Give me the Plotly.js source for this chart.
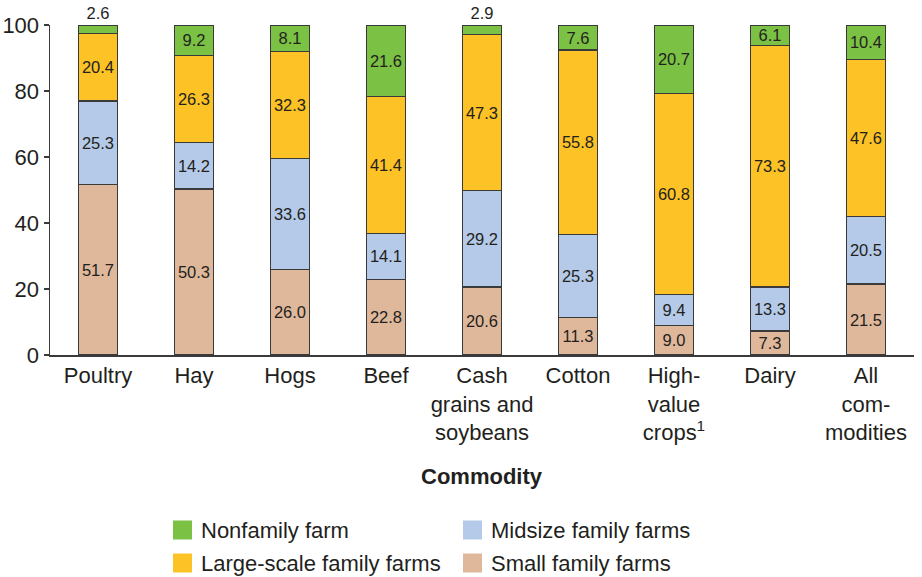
<!DOCTYPE html>
<html>
<head>
<meta charset="utf-8">
<script src="https://cdn.plot.ly/plotly-3.0.1.min.js"></script>
<style>html,body{margin:0;padding:0;background:#fff;}#chart{width:922px;height:577px;}</style>
</head>
<body>
<div id="chart"></div>
<script>
const categories = ["Poultry", "Hay", "Hogs", "Beef", "Cash<br>grains and<br>soybeans", "Cotton", "High-<br>value<br>crops<sup>1</sup>", "Dairy", "All<br>com-<br>modities"];
const smallFamily = [51.7, 50.3, 26.0, 22.8, 20.6, 11.3, 9.0, 7.3, 21.5];
const midsizeFamily = [25.3, 14.2, 33.6, 14.1, 29.2, 25.3, 9.4, 13.3, 20.5];
const largeScaleFamily = [20.4, 26.3, 32.3, 41.4, 47.3, 55.8, 60.8, 73.3, 47.6];
const nonfamily = [2.6, 9.2, 8.1, 21.6, 2.9, 7.6, 20.7, 6.1, 10.4];
const yTicks = [0, 20, 40, 60, 80, 100];

const seriesNames = ["Small family farms", "Midsize family farms", "Large-scale family farms", "Nonfamily farm"];
const seriesColors = ["#dfb89b", "#b4cae8", "#fdc225", "#7bc144"];
const seriesValues = [smallFamily, midsizeFamily, largeScaleFamily, nonfamily];

const textColor = "#231f20";
const FONT = "Liberation Sans, Arial, Helvetica, sans-serif";

const traces = seriesValues.map((vals, i) => ({
  type: "bar",
  name: seriesNames[i],
  x: categories,
  y: vals,
  marker: {color: seriesColors[i], line: {color: "#3a3a3a", width: 1.2}},
  texttemplate: "%{y:.1f}",
  textposition: i === 3 ? vals.map(v => v < 5 ? "outside" : "inside") : "inside",
  insidetextanchor: "middle",
  constraintext: "none",
  textfont: {family: FONT, size: 16.5, color: textColor},
  outsidetextfont: {family: FONT, size: 16.5, color: textColor},
  insidetextfont: {family: FONT, size: 16.5, color: textColor},
  cliponaxis: false,
  hoverinfo: "skip",
  showlegend: false
}));

// plot area in pixels: left 50, right 914, top 25, bottom 355
const PL = 50, PR = 914, PT = 25, PB = 355;
const px = x => (x - PL) / (PR - PL);
const py = y => (PB - y) / (PB - PT);

const legendItems = [
  {name: "Nonfamily farm", color: seriesColors[3], x: 173, y: 530},
  {name: "Midsize family farms", color: seriesColors[1], x: 463, y: 530},
  {name: "Large-scale family farms", color: seriesColors[2], x: 173, y: 563},
  {name: "Small family farms", color: seriesColors[0], x: 463, y: 563}
];

const shapes = legendItems.map(it => ({
  type: "rect", xref: "paper", yref: "paper",
  x0: px(it.x), x1: px(it.x + 19), y0: py(it.y + 9.5), y1: py(it.y - 9.5),
  fillcolor: it.color, line: {width: 0}
}));
const annotations = legendItems.map(it => ({
  xref: "paper", yref: "paper", x: px(it.x + 26), y: py(it.y),
  xanchor: "left", yanchor: "middle", showarrow: false,
  text: it.name, font: {family: FONT, size: 22, color: textColor}
}));
annotations.push({
  xref: "paper", yref: "paper", x: px(482), y: py(476),
  xanchor: "center", yanchor: "middle", showarrow: false,
  text: "<b>Commodity</b>", font: {family: FONT, size: 22, color: textColor}
});

const layout = {
  width: 922, height: 577,
  margin: {l: PL, r: 922 - PR, t: PT, b: 577 - PB},
  paper_bgcolor: "#fff", plot_bgcolor: "#fff",
  barmode: "stack",
  bargap: 0.6,
  font: {family: FONT, size: 22, color: textColor},
  xaxis: {
    type: "category",
    showline: true, linecolor: "#3a3a3a", linewidth: 1.5,
    ticks: "", showgrid: false, zeroline: false,
    tickfont: {family: FONT, size: 22, color: textColor},
    automargin: false
  },
  yaxis: {
    range: [0, 100],
    tickvals: yTicks,
    showline: true, linecolor: "#3a3a3a", linewidth: 1.5,
    ticks: "outside", ticklen: 5, tickwidth: 1.5, tickcolor: "#3a3a3a",
    showgrid: false, zeroline: false,
    tickfont: {family: FONT, size: 22, color: textColor},
    automargin: false
  },
  shapes: shapes,
  annotations: annotations,
  showlegend: false
};

Plotly.newPlot("chart", traces, layout, {displayModeBar: false, staticPlot: true});
</script>
</body>
</html>
